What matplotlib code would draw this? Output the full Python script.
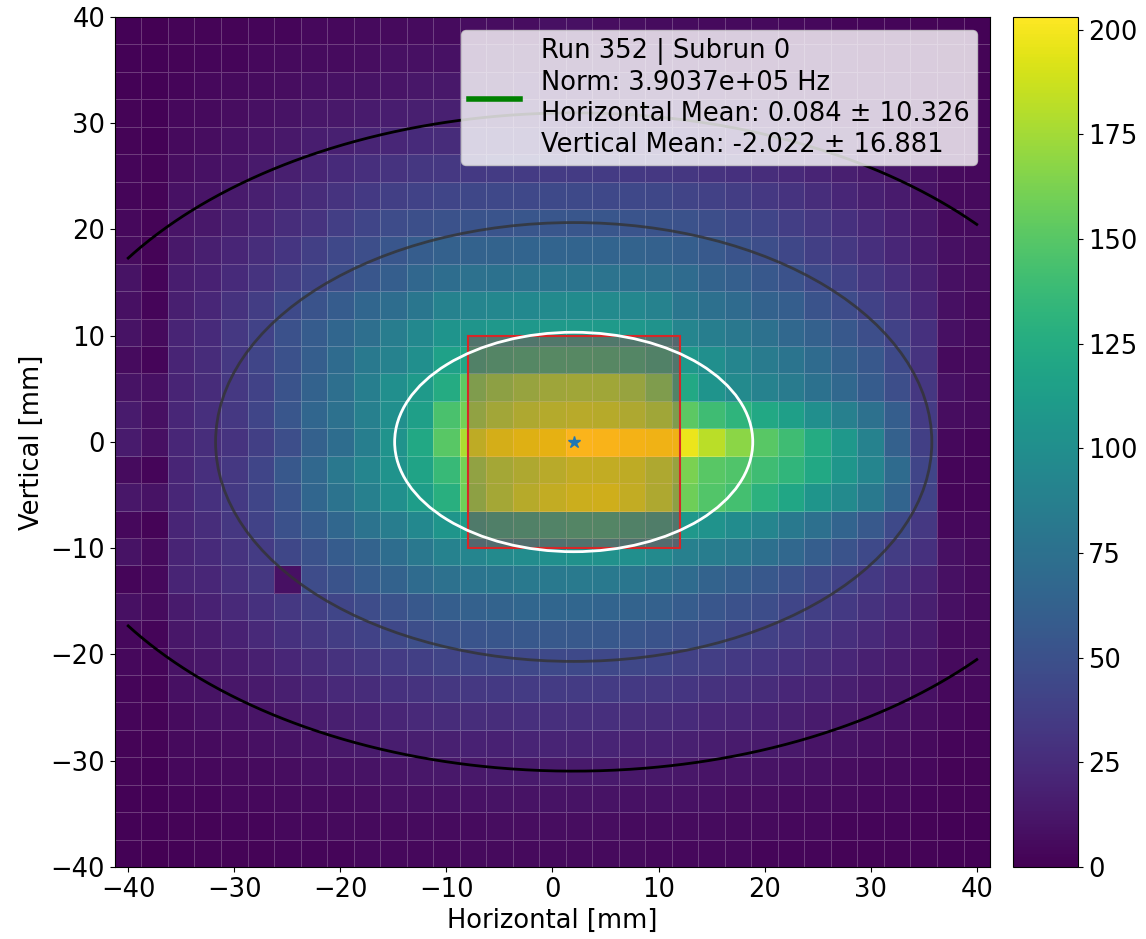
import numpy as np
import matplotlib
matplotlib.use("Agg")
import matplotlib.pyplot as plt
from matplotlib.patches import Ellipse, Rectangle
from matplotlib.lines import Line2D

# bin layout (mm)
x_edges = np.linspace(-41.25, 41.25, 34)
y_edges = np.linspace(-40, 40, 32)

# counts per bin, rows listed from top (y = +38.7) to bottom (y = -38.7),
# columns from x = -40 to x = +40
counts_top_down = [
    [1, 0, 2, 2, 2, 3, 3, 4, 4, 5, 5, 6, 6, 7, 7, 7, 8, 8, 7, 7, 6, 6, 5, 5, 5, 4, 4, 3, 3, 3, 2, 2, 1],
    [1, 1, 2, 3, 3, 4, 5, 6, 6, 7, 8, 8, 9, 9, 10, 10, 10, 10, 10, 9, 9, 8, 8, 7, 7, 6, 5, 5, 4, 4, 3, 2, 2],
    [1, 1, 3, 4, 5, 6, 7, 8, 9, 10, 11, 12, 13, 13, 13, 14, 14, 14, 13, 13, 13, 12, 11, 10, 10, 9, 8, 7, 6, 5, 4, 3, 2],
    [2, 1, 4, 5, 7, 8, 10, 12, 13, 15, 16, 17, 18, 19, 19, 19, 20, 20, 19, 19, 18, 17, 16, 15, 14, 12, 11, 9, 8, 7, 5, 3, 3],
    [2, 1, 5, 7, 9, 11, 13, 16, 18, 20, 22, 24, 25, 26, 26, 27, 27, 27, 26, 26, 25, 24, 23, 21, 19, 17, 15, 13, 11, 9, 7, 4, 4],
    [3, 2, 7, 9, 11, 14, 17, 20, 24, 27, 30, 32, 33, 34, 35, 35, 35, 35, 35, 34, 33, 32, 30, 28, 26, 23, 20, 17, 14, 12, 8, 5, 4],
    [3, 2, 9, 11, 14, 17, 21, 25, 30, 34, 38, 40, 42, 43, 44, 44, 45, 45, 44, 44, 43, 41, 39, 36, 33, 30, 26, 22, 18, 15, 10, 5, 5],
    [4, 2, 11, 13, 17, 21, 26, 30, 37, 42, 46, 49, 51, 52, 53, 54, 54, 54, 54, 53, 52, 51, 48, 45, 42, 37, 33, 28, 23, 19, 13, 6, 6],
    [5, 2, 13, 17, 21, 26, 31, 38, 44, 48, 54, 59, 62, 63, 64, 65, 65, 65, 65, 64, 62, 60, 56, 52, 48, 43, 38, 33, 27, 22, 15, 8, 7],
    [10, 3, 16, 19, 24, 30, 36, 42, 48, 54, 60, 67, 72, 75, 76, 77, 78, 78, 77, 76, 73, 70, 64, 61, 55, 51, 45, 40, 33, 27, 18, 8, 7],
    [8, 3, 17, 22, 29, 36, 45, 52, 58, 66, 72, 80, 90, 92, 94, 95, 96, 97, 96, 94, 90, 80, 74, 70, 63, 60, 52, 46, 40, 33, 22, 8, 6],
    [10, 5, 20, 24, 33, 40, 50, 58, 66, 73, 85, 95, 105, 106, 108, 108, 110, 110, 110, 108, 104, 92, 86, 81, 75, 68, 62, 55, 48, 40, 28, 8, 6],
    [6, 3, 20, 25, 33, 42, 50, 60, 70, 82, 90, 100, 115, 120, 124, 126, 128, 128, 127, 125, 120, 108, 100, 92, 84, 78, 70, 62, 55, 45, 30, 5, 5],
    [10, 8, 20, 25, 33, 40, 52, 63, 73, 86, 100, 110, 124, 152, 158, 162, 165, 166, 166, 162, 152, 122, 105, 96, 90, 84, 76, 68, 58, 48, 32, 8, 6],
    [15, 8, 22, 27, 33, 42, 54, 66, 75, 88, 100, 114, 145, 160, 167, 172, 174, 176, 175, 172, 166, 152, 140, 132, 122, 114, 100, 88, 75, 60, 35, 7, 6],
    [15, 8, 22, 26, 30, 38, 48, 62, 72, 86, 104, 122, 150, 178, 186, 190, 193, 202, 201, 199, 197, 197, 182, 168, 150, 140, 124, 108, 90, 62, 38, 4, 3],
    [6, 3, 21, 27, 33, 42, 55, 68, 81, 92, 104, 118, 137, 160, 168, 172, 176, 180, 180, 178, 172, 162, 150, 147, 140, 133, 122, 107, 92, 70, 42, 3, 3],
    [12, 10, 22, 28, 34, 42, 53, 66, 77, 88, 100, 112, 128, 158, 168, 175, 180, 183, 184, 180, 172, 158, 148, 142, 130, 120, 106, 96, 82, 65, 40, 3, 3],
    [4, 2, 21, 26, 32, 40, 50, 58, 67, 77, 85, 95, 106, 112, 118, 120, 122, 124, 124, 120, 116, 108, 104, 98, 92, 82, 74, 65, 56, 45, 33, 4, 4],
    [10, 5, 20, 24, 30, 35, 43, 51, 58, 64, 72, 81, 90, 92, 96, 98, 100, 102, 102, 100, 96, 88, 85, 81, 74, 68, 60, 52, 45, 36, 28, 8, 6],
    [3, 4, 20, 22, 27, 32, 8, 46, 52, 58, 63, 70, 75, 78, 80, 82, 82, 83, 82, 80, 76, 70, 64, 60, 55, 50, 45, 40, 34, 28, 20, 8, 6],
    [8, 6, 15, 19, 23, 28, 33, 38, 42, 46, 51, 55, 60, 62, 64, 66, 66, 66, 65, 64, 62, 58, 54, 50, 47, 42, 38, 34, 29, 24, 17, 8, 6],
    [4, 3, 12, 15, 19, 23, 28, 32, 36, 40, 44, 48, 51, 53, 54, 55, 56, 56, 55, 54, 52, 49, 46, 42, 39, 35, 31, 27, 23, 19, 14, 6, 5],
    [4, 3, 10, 12, 15, 18, 22, 25, 29, 32, 35, 38, 41, 42, 43, 44, 45, 45, 44, 43, 42, 39, 37, 34, 31, 28, 25, 22, 18, 15, 11, 5, 5],
    [3, 2, 8, 10, 12, 14, 17, 20, 23, 25, 28, 30, 32, 33, 34, 35, 35, 35, 35, 34, 33, 31, 29, 27, 25, 22, 20, 17, 14, 12, 9, 4, 4],
    [3, 2, 6, 8, 9, 11, 13, 15, 17, 19, 21, 23, 25, 26, 26, 27, 27, 27, 27, 26, 25, 24, 22, 21, 19, 17, 15, 13, 11, 9, 7, 4, 3],
    [2, 2, 5, 6, 7, 8, 10, 11, 13, 14, 16, 17, 18, 19, 19, 20, 20, 20, 20, 19, 19, 18, 16, 15, 14, 13, 11, 10, 8, 7, 5, 3, 3],
    [2, 1, 4, 4, 5, 6, 7, 8, 9, 10, 11, 12, 13, 13, 14, 14, 14, 14, 14, 13, 13, 12, 11, 11, 10, 9, 8, 7, 6, 5, 4, 2, 2],
    [1, 1, 3, 3, 4, 4, 5, 6, 6, 7, 8, 8, 9, 9, 10, 10, 10, 10, 10, 9, 9, 9, 8, 7, 7, 6, 6, 5, 4, 4, 3, 2, 2],
    [1, 1, 2, 2, 3, 3, 4, 4, 5, 5, 5, 6, 6, 6, 7, 7, 7, 7, 7, 6, 6, 6, 6, 5, 5, 4, 4, 3, 3, 3, 2, 1, 1],
    [1, 0, 1, 2, 2, 2, 3, 3, 3, 4, 4, 4, 4, 5, 5, 5, 5, 5, 5, 5, 4, 4, 4, 4, 3, 3, 3, 2, 2, 2, 2, 1, 1],
]

# fit summary
center = (2.0, 0.0)
sigma_h = 16.881
sigma_v = 10.326
roi = (-8, -10, 20, 20)  # x0, y0, width, height
legend_text = ("Run 352 | Subrun 0\n"
               "Norm: 3.9037e+05 Hz\n"
               "Horizontal Mean: 0.084 \u00b1 10.326\n"
               "Vertical Mean: -2.022 \u00b1 16.881")

counts = np.array(counts_top_down)[::-1]
fs = 18.5

fig = plt.figure(figsize=(11.46, 9.39), dpi=100)
ax = fig.add_axes([0.1003, 0.0767, 0.7636, 0.9052])
cax = fig.add_axes([0.884, 0.0767, 0.0567, 0.9052])

mesh = ax.pcolormesh(x_edges, y_edges, counts, cmap="viridis", vmin=0, vmax=203,
                     edgecolors=(1, 1, 1, 0.22), linewidth=0.6)

ax.add_patch(Rectangle(roi[:2], roi[2], roi[3], facecolor=(1, 0, 0, 0.22),
                       edgecolor="#d62728", lw=1.5, zorder=3))
ax.add_patch(Ellipse(center, 2 * sigma_h, 2 * sigma_v, fill=False,
                     edgecolor="white", lw=2, zorder=4))
ax.add_patch(Ellipse(center, 4 * sigma_h, 4 * sigma_v, fill=False,
                     edgecolor="#333333", lw=2, alpha=0.8, zorder=4))

# 3-sigma contour, drawn only across the detector range
xs = np.linspace(-40, 40, 400)
ys = 3 * sigma_v * np.sqrt(np.clip(1 - ((xs - center[0]) / (3 * sigma_h)) ** 2, 0, None))
ax.plot(xs, center[1] + ys, color="black", lw=2, zorder=4)
ax.plot(xs, center[1] - ys, color="black", lw=2, zorder=4)

ax.plot(center[0], center[1], marker="*", color="tab:blue", markersize=9, zorder=5)

ax.set_xlim(-41.25, 41.25)
ax.set_ylim(-40, 40)
ax.set_xticks(np.arange(-40, 41, 10))
ax.set_yticks(np.arange(-40, 41, 10))
ax.tick_params(labelsize=fs)
ax.set_xlabel("Horizontal [mm]", fontsize=fs)
ax.set_ylabel("Vertical [mm]", fontsize=fs)

handle = Line2D([], [], color="green", lw=4)
leg = ax.legend([handle], [legend_text], loc="upper right", fontsize=fs,
                framealpha=0.8, borderpad=0.3)
for t in leg.get_texts():
    t.set_linespacing(1.25)

cb = fig.colorbar(mesh, cax=cax)
cb.set_ticks(np.arange(0, 201, 25))
cb.ax.tick_params(labelsize=fs)

fig.savefig("out.png", dpi=100)
